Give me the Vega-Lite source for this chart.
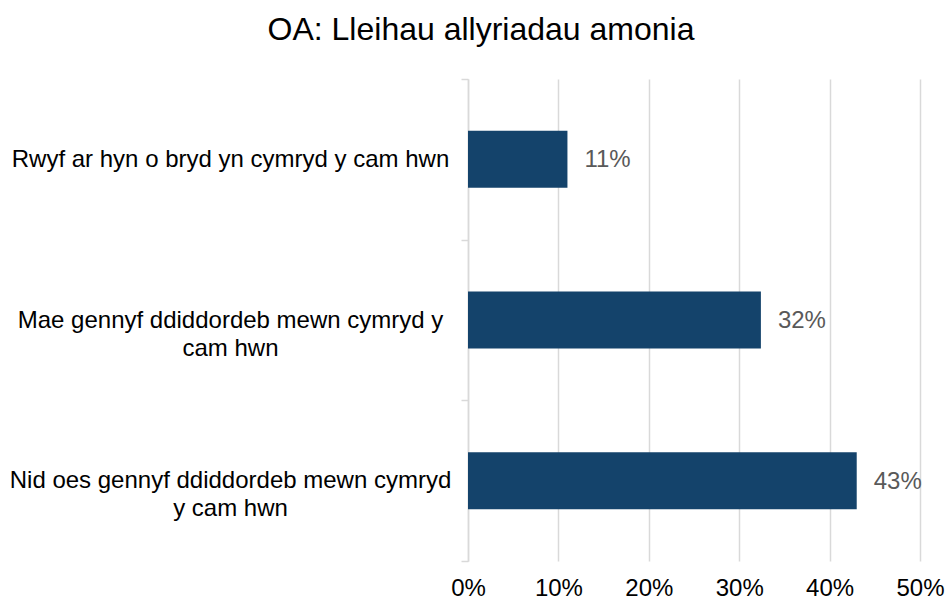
{
  "$schema": "https://vega.github.io/schema/vega-lite/v6.json",
  "width": 452,
  "height": 482,
  "autosize": {"type": "none"},
  "padding": {"left": 468, "top": 79, "right": 27, "bottom": 38},
  "background": "white",
  "title": {
    "text": "OA: Lleihau allyriadau amonia",
    "font": "Liberation Sans",
    "fontSize": 32,
    "fontWeight": "normal",
    "color": "#000000",
    "anchor": "middle",
    "frame": "group",
    "dx": -213,
    "offset": 20
  },
  "data": {
    "values": [
      {"cat": "Rwyf ar hyn o bryd yn cymryd y cam hwn", "value": 0.11},
      {"cat": "Mae gennyf ddiddordeb mewn cymryd y|cam hwn", "value": 0.324},
      {"cat": "Nid oes gennyf ddiddordeb mewn cymryd|y cam hwn", "value": 0.43}
    ]
  },
  "config": {
    "view": {"stroke": null},
    "font": "Liberation Sans"
  },
  "encoding": {
    "y": {
      "field": "cat",
      "type": "nominal",
      "sort": null,
      "title": null,
      "scale": {"paddingInner": 0, "paddingOuter": 0},
      "axis": {
        "labelExpr": "split(datum.label, '|')",
        "labelAlign": "center",
        "labelBaseline": "middle",
        "labelPadding": 231,
        "labelFontSize": 24,
        "labelColor": "#000000",
        "labelFont": "Liberation Sans",
        "labelLineHeight": 28,
        "labelLimit": 0,
        "tickBand": "extent",
        "tickSize": 7,
        "tickColor": "#d9d9d9",
        "tickWidth": 1.5,
        "domainColor": "#d9d9d9",
        "domainWidth": 1.5,
        "grid": false
      }
    },
    "x": {
      "field": "value",
      "type": "quantitative",
      "title": null,
      "scale": {"domain": [0, 0.5], "nice": false},
      "axis": {
        "values": [0, 0.1, 0.2, 0.3, 0.4, 0.5],
        "format": ".0%",
        "grid": true,
        "gridColor": "#d9d9d9",
        "gridWidth": 1.5,
        "domain": false,
        "ticks": false,
        "labelFlush": false,
        "labelPadding": 15,
        "labelFontSize": 24,
        "labelColor": "#000000",
        "labelFont": "Liberation Sans"
      }
    }
  },
  "layer": [
    {
      "mark": {"type": "bar", "color": "#14436b", "height": {"band": 0.355}}
    },
    {
      "mark": {"type": "text", "align": "left", "baseline": "middle", "dx": 17, "dy": 1, "fontSize": 24, "color": "#595959", "font": "Liberation Sans"},
      "encoding": {
        "text": {"field": "value", "type": "quantitative", "format": ".0%"}
      }
    }
  ]
}
